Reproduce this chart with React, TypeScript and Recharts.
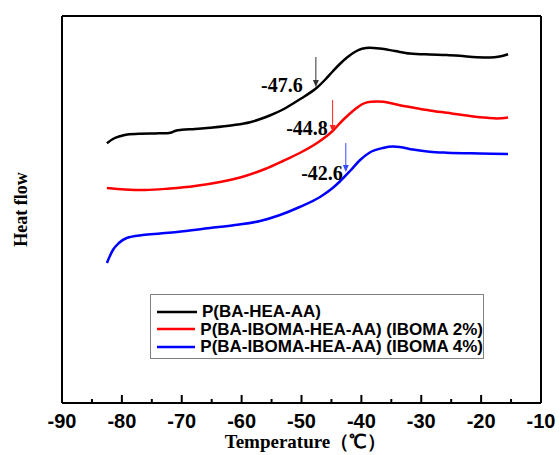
import React from 'react';
import { LineChart, Line, XAxis, YAxis, ReferenceLine, ReferenceDot, Legend } from 'recharts';

// temperature (°C) / heat flow (arbitrary units)
const blackT = [-82.5, -81.5, -80.3, -79.1, -77.0, -74.5, -72.5, -71.6, -71.0, -70.0, -67.8, -65.3, -61.5, -58.6, -57.1, -55.3, -53.1, -51.4, -49.4, -47.4, -46.1, -44.8, -43.6, -42.4, -41.1, -39.9, -38.6, -36.9, -34.4, -31.9, -28.6, -25.7, -23.6, -20.7, -18.5, -16.9, -15.5];
const blackHF = [259.7, 264, 266.8, 268.4, 269.3, 269.6, 269.8, 270.8, 272.3, 273.2, 274, 275.3, 277.8, 280.8, 283.5, 287.5, 293.5, 299.5, 307, 315.5, 323, 331.5, 339, 345.5, 351, 354.3, 355.3, 354.5, 352, 349.5, 348.5, 348, 347.2, 345.8, 345.4, 346.5, 348.8];

const redT = [-82.5, -79.5, -76.1, -72.0, -67.8, -63.6, -59.4, -56.1, -53.1, -50.3, -47.4, -45.9, -44.8, -43.4, -41.9, -40.8, -39.8, -38.4, -37.2, -35.2, -33.6, -31.4, -28.6, -25.7, -22.4, -19.0, -17.4, -15.5];
const redHF = [215, 213.5, 213, 214.5, 217, 221, 227, 234, 242, 250, 260, 266.5, 272, 281, 289.5, 295, 299, 301.3, 301.4, 300, 297.8, 295.5, 292.6, 290.2, 287.5, 285.2, 284.6, 285.5];

const blueT = [-82.5, -82.0, -81.5, -80.5, -79.2, -76.5, -73.6, -70.8, -65.3, -61.1, -56.9, -53.6, -50.3, -46.9, -44.8, -43.6, -41.9, -40.3, -38.6, -36.4, -34.7, -33.6, -31.4, -28.6, -25.7, -20.2, -15.5];
const blueHF = [140, 147, 153, 160, 165, 168, 169.5, 171, 175, 178, 182, 188, 196, 206, 215, 221.5, 232, 242.5, 250.5, 255, 256.4, 256, 253.5, 251.3, 250.3, 249.5, 249];

const seriesNames = ['P(BA-HEA-AA)', 'P(BA-IBOMA-HEA-AA) (IBOMA 2%)', 'P(BA-IBOMA-HEA-AA) (IBOMA 4%)'];

const xTicks = [-90, -85, -80, -75, -70, -65, -60, -55, -50, -45, -40, -35, -30, -25, -20, -15, -10];

// glass transition marks: arrow x, arrow top/bottom, label anchor
const tgValues = [-47.6, -44.8, -42.6];
const tgArrowTop = [346, 303, 260];
const tgArrowBottom = [316, 271, 231];
const tgLabelT = [-49.8, -45.6, -43.1];
const tgLabelHF = [318, 275, 230];
const tgColors = ['#333333', '#ff2020', '#3a4cff'];

const toPoints = (t: number[], hf: number[]) => t.map((x, i) => ({ t: x, hf: hf[i] }));
const blackData = toPoints(blackT, blackHF);
const redData = toPoints(redT, redHF);
const blueData = toPoints(blueT, blueHF);

const sans = 'Arial, "Liberation Sans", sans-serif';
const serif = '"Times New Roman", "Liberation Serif", serif';

const TempTick = (props: any) => {
    const { x, y, payload } = props;
    const major = payload.value % 10 === 0;
    return (
        <g>
            <line x1={x} x2={x} y1={y} y2={y - (major ? 8 : 4)} stroke="#000" strokeWidth={2} />
            {major && (
                <text x={x} y={y + 25} textAnchor="middle" fontFamily={sans} fontWeight="bold" fontSize={20} fill="#000">
                    {payload.value}
                </text>
            )}
        </g>
    );
};

const arrowShape = (color: string) => (props: any) => {
    const { x1, y1, x2, y2 } = props;
    return (
        <g>
            <line x1={x1} y1={y1} x2={x2} y2={y2 - 5} stroke={color} strokeWidth={1} />
            <path d={`M${x2 - 3},${y2 - 7} L${x2 + 3},${y2 - 7} L${x2},${y2} Z`} fill={color} />
        </g>
    );
};

const tgLabel = (text: string) => (props: any) => (
    <text x={props.cx} y={props.cy} textAnchor="end" dominantBaseline="central" fontFamily={serif} fontWeight="bold" fontSize={20} fill="#000">
        {text}
    </text>
);

const HeatLabel = (props: any) => {
    const vb = props.viewBox || { x: 2, y: 16, width: 60, height: 387 };
    const cx = 21;
    const cy = vb.y + vb.height / 2;
    return (
        <text x={cx} y={cy} transform={`rotate(-90, ${cx}, ${cy})`} textAnchor="middle" dominantBaseline="central" fontFamily={serif} fontWeight="bold" fontSize={18} fill="#000">
            Heat flow
        </text>
    );
};

const TempLabel = (props: any) => {
    const vb = props.viewBox || { x: 62, y: 403, width: 479, height: 52 };
    return (
        <text x={vb.x + vb.width / 2 + 4} y={448} textAnchor="middle" fontFamily={serif} fontWeight="bold" fontSize={19} fill="#000">
            Temperature（℃）
        </text>
    );
};

const LegendBox = (props: any) => {
    const { payload } = props;
    return (
        <div style={{ boxSizing: 'border-box', width: 334, height: 65, border: '1px solid #808080', background: '#fff', paddingTop: 8, paddingLeft: 6 }}>
            {(payload || []).map((entry: any) => (
                <div key={entry.value} style={{ display: 'flex', alignItems: 'center', height: 17.5 }}>
                    <svg width={40} height={4} style={{ marginRight: 5 }}>
                        <line x1={0} x2={40} y1={2} y2={2} stroke={entry.color} strokeWidth={2.5} />
                    </svg>
                    <span style={{ fontFamily: sans, fontWeight: 'bold', fontSize: 17, lineHeight: '17.5px', color: '#000', whiteSpace: 'nowrap' }}>
                        {entry.value}
                    </span>
                </div>
            ))}
        </div>
    );
};

const DscChart: React.FC = () => {
    return (
        <div style={{ position: 'absolute', left: 0, top: 0, width: 560, height: 455, background: '#fff' }}>
            <LineChart width={560} height={455} margin={{ top: 6, right: 0, bottom: 0, left: 2 }}>
                <XAxis
                    type="number"
                    dataKey="t"
                    domain={[-90, -10]}
                    ticks={xTicks}
                    interval={0}
                    height={52}
                    tickSize={0}
                    tickMargin={0}
                    tick={<TempTick />}
                    axisLine={{ stroke: '#000', strokeWidth: 2 }}
                    allowDataOverflow
                    label={<TempLabel />}
                />
                <XAxis xAxisId="top" orientation="top" type="number" dataKey="t" domain={[-90, -10]} height={10} tick={false} tickLine={false} axisLine={{ stroke: '#000', strokeWidth: 2 }} />
                <YAxis
                    type="number"
                    domain={[0, 387]}
                    width={60}
                    tick={false}
                    tickLine={false}
                    axisLine={{ stroke: '#000', strokeWidth: 2 }}
                    allowDataOverflow
                    label={<HeatLabel />}
                />
                <YAxis yAxisId="right" orientation="right" type="number" domain={[0, 387]} width={19} tick={false} tickLine={false} axisLine={{ stroke: '#000', strokeWidth: 2 }} />
                <Legend layout="horizontal" verticalAlign="middle" align="center" content={<LegendBox />} wrapperStyle={{ position: 'absolute', left: 150, top: 294, width: 334, height: 65 }} />
                <Line data={blackData} dataKey="hf" name={seriesNames[0]} type="monotone" stroke="#000000" strokeWidth={2.5} dot={false} isAnimationActive={false} />
                <Line data={redData} dataKey="hf" name={seriesNames[1]} type="monotone" stroke="#ff0000" strokeWidth={2.5} dot={false} isAnimationActive={false} />
                <Line data={blueData} dataKey="hf" name={seriesNames[2]} type="monotone" stroke="#0000ff" strokeWidth={2.5} dot={false} isAnimationActive={false} />
                {tgValues.map((tg, i) => (
                    <ReferenceLine
                        key={'arrow' + i}
                        segment={[{ x: tg, y: tgArrowTop[i] }, { x: tg, y: tgArrowBottom[i] }]}
                        shape={arrowShape(tgColors[i])}
                    />
                ))}
                {tgValues.map((tg, i) => (
                    <ReferenceDot key={'label' + i} x={tgLabelT[i]} y={tgLabelHF[i]} r={0} shape={tgLabel(tg.toFixed(1))} />
                ))}
            </LineChart>
        </div>
    );
};

export default function App() {
    return <DscChart />;
}
